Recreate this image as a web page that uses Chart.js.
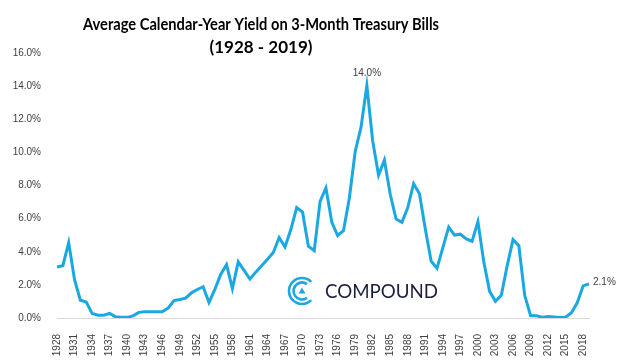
<!DOCTYPE html>
<html>
<head>
<meta charset="utf-8">
<script src="https://cdn.jsdelivr.net/npm/chart.js@4/dist/chart.umd.min.js"></script>
<style>
html,body{margin:0;padding:0;background:#fff;}
#wrap{width:620px;height:363px;position:relative;}
</style>
</head>
<body>
<div id="wrap"><canvas id="c" width="620" height="363"></canvas></div>
<script>
const years = [];
for (let y = 1928; y <= 2019; y++) years.push(String(y));
const yields = [
 3.08,3.16,4.55,2.31,1.07,0.96,0.28,0.17,0.17,0.28,
 0.07,0.05,0.04,0.13,0.34,0.38,0.38,0.38,0.38,0.60,
 1.05,1.12,1.20,1.52,1.72,1.89,0.94,1.73,2.63,3.22,
 1.77,3.39,2.87,2.35,2.77,3.16,3.55,3.95,4.86,4.29,
 5.34,6.67,6.39,4.33,4.06,7.04,7.85,5.79,4.98,5.27,
 7.22,10.04,11.51,14.03,10.69,8.63,9.53,7.47,5.97,5.78,
 6.67,8.11,7.50,5.38,3.43,3.00,4.25,5.49,5.01,5.06,
 4.78,4.64,5.82,3.40,1.61,1.01,1.37,3.15,4.73,4.36,
 1.37,0.15,0.14,0.05,0.09,0.06,0.03,0.05,0.32,0.93,
 1.94,2.06
];
const tickYears = [];
for (let y = 1928; y <= 2018; y += 3) tickYears.push(String(y));
const yTicks = [0,2,4,6,8,10,12,14,16];
const titleLines = ['Average Calendar-Year Yield on 3-Month Treasury Bills','(1928 - 2019)'];
const peakLabel = '14.0%';
const lastLabel = '2.1%';
const brand = 'COMPOUND';

const LINE = '#1aa8e2';

const decor = {
  id: 'decor',
  afterDraw(chart) {
    const ctx = chart.ctx;
    ctx.save();
    // title
    ctx.fillStyle = '#000';
    ctx.textAlign = 'center';
    ctx.textBaseline = 'alphabetic';
    ctx.font = 'bold 17px "Liberation Sans Narrow", Lato, sans-serif';
    ctx.fillText(titleLines[0], 261, 30, 356);
    ctx.fillText(titleLines[1], 261, 53, 120);
    // data labels
    const meta = chart.getDatasetMeta(0);
    let maxI = 0;
    yields.forEach((v,i)=>{ if (v > yields[maxI]) maxI = i; });
    const pk = meta.data[maxI];
    ctx.font = '10px "Liberation Sans", sans-serif';
    ctx.fillStyle = '#404040';
    ctx.textBaseline = 'middle';
    ctx.fillText(peakLabel, pk.x, pk.y - 12);
    const lp = meta.data[yields.length - 1];
    ctx.textAlign = 'left';
    ctx.fillText(lastLabel, lp.x + 4, lp.y - 2);
    // logo
    const cx = 302, cy = 291;
    ctx.strokeStyle = '#1ea6e0';
    ctx.lineWidth = 2.6;
    ctx.beginPath();
    ctx.arc(cx, cy, 13, 0.25*Math.PI, 1.75*Math.PI);
    ctx.stroke();
    ctx.beginPath();
    ctx.arc(cx, cy, 8.5, 0.3*Math.PI, 1.7*Math.PI);
    ctx.stroke();
    ctx.fillStyle = '#1ea6e0';
    ctx.beginPath();
    ctx.moveTo(cx, cy - 3.5);
    ctx.lineTo(cx + 3.5, cy + 2.5);
    ctx.lineTo(cx - 3.5, cy + 2.5);
    ctx.closePath();
    ctx.fill();
    ctx.fillStyle = '#1b1f3f';
    ctx.font = '19px Lato, sans-serif';
    ctx.textBaseline = 'alphabetic';
    ctx.fillText(brand, 325, 298, 113);
    ctx.restore();
  }
};

new Chart(document.getElementById('c'), {
  type: 'line',
  data: {
    labels: years,
    datasets: [{
      data: yields,
      borderColor: LINE,
      borderWidth: 3,
      pointRadius: 0,
      tension: 0,
      fill: false
    }]
  },
  options: {
    responsive: false,
    animation: false,
    events: [],
    layout: { padding: { left: 0, right: 31, top: 53, bottom: 0 } },
    plugins: { legend: { display: false }, title: { display: false }, tooltip: { enabled: false } },
    scales: {
      x: {
        type: 'category',
        offset: false,
        grid: { display: false },
        border: { display: true, color: '#d9d9d9', width: 1 },
        ticks: {
          autoSkip: false,
          maxRotation: 90,
          minRotation: 90,
          padding: 8,
          color: '#404040',
          font: { family: '"Liberation Sans", sans-serif', size: 10 },
          callback: function(v, i) { const l = years[i]; return tickYears.includes(l) ? l : ''; }
        },
        afterFit(s) { s.height = 45; }
      },
      y: {
        min: 0, max: 16,
        grid: { display: false },
        border: { display: false },
        afterBuildTicks(s) { s.ticks = yTicks.map(v => ({ value: v })); },
        ticks: {
          padding: 8,
          color: '#404040',
          font: { family: '"Liberation Sans", sans-serif', size: 10 },
          callback: v => v.toFixed(1) + '%'
        },
        afterFit(s) { s.width = 57; }
      }
    }
  },
  plugins: [decor]
});
</script>
</body>
</html>
